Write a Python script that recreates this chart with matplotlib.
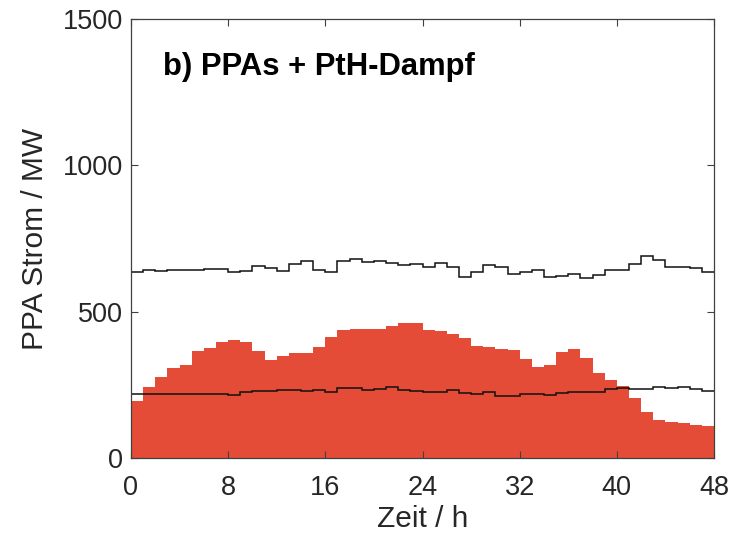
import numpy as np
import matplotlib.pyplot as plt

plt.rcParams['font.family'] = ['Liberation Sans', 'DejaVu Sans']

# PPA Strom (rot, gefuellt), je Stunde 0..47
ppa_strom = [196, 244, 276, 306, 317, 364, 377, 397, 404, 396,
             364, 336, 350, 360, 360, 378, 414, 436, 440, 441,
             441, 452, 460, 462, 439, 434, 425, 409, 384, 378,
             374, 369, 339, 310, 318, 361, 373, 343, 289, 267,
             245, 205, 157, 131, 124, 118, 112, 110]

# obere Linie
obere = [637, 641, 640, 642, 641, 644, 645, 646, 634, 640,
         655, 648, 640, 663, 672, 643, 637, 672, 679, 670,
         674, 665, 659, 662, 652, 666, 653, 620, 636, 661,
         654, 630, 637, 642, 620, 623, 630, 614, 624, 642,
         642, 663, 691, 677, 651, 653, 648, 634]

# untere Linie
untere = [219, 218, 219, 218, 218, 220, 217, 217, 215, 225,
          229, 230, 234, 232, 230, 232, 225, 239, 239, 234,
          236, 241, 234, 229, 224, 225, 233, 221, 220, 225,
          213, 212, 217, 219, 214, 221, 227, 224, 224, 235,
          240, 235, 236, 242, 239, 241, 236, 228]

edges = np.arange(len(ppa_strom) + 1)
xticks = [0, 8, 16, 24, 32, 40, 48]
yticks = [0, 500, 1000, 1500]

fig = plt.figure(figsize=(7.33, 5.41), dpi=100)
ax = fig.add_axes([131 / 733, 1 - 458 / 541, (714 - 131) / 733, (458 - 19) / 541])

ax.stairs(ppa_strom, edges, fill=True, color='#e54c37', linewidth=0)
ax.stairs(obere, edges, baseline=None, color='#111111', linewidth=1.1)
ax.stairs(untere, edges, baseline=None, color='#111111', linewidth=1.1)

ax.set_xlim(0, 48)
ax.set_ylim(0, 1500)
ax.set_xticks(xticks)
ax.set_yticks(yticks)

txt = '#262626'
ax.tick_params(direction='in', top=True, right=True, length=5, width=0.8,
               color='#404040', labelsize=19.5, labelcolor=txt)
ax.tick_params(axis='x', pad=12)
ax.tick_params(axis='y', pad=6)
for s in ax.spines.values():
    s.set_color('#404040')
    s.set_linewidth(0.9)

ax.set_xlabel('Zeit / h', fontsize=21.5, color=txt, labelpad=3)
ax.set_ylabel('PPA Strom / MW', fontsize=21.5, color=txt, labelpad=10)

ax.text(2.6, 1336, 'b) PPAs + PtH-Dampf', fontsize=22.3, fontweight='bold',
        color='black', va='center', ha='left')

# save figure
plt.savefig('out.png', dpi=100)
plt.close(fig)
